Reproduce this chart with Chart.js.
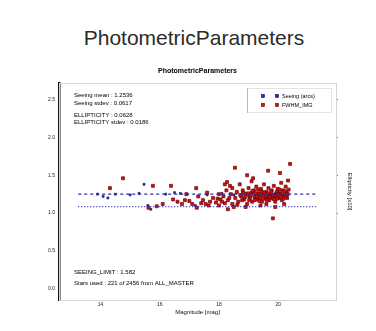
<!DOCTYPE html>
<html>
<head>
<meta charset="utf-8">
<script src="https://cdn.jsdelivr.net/npm/chart.js@4.4.1/dist/chart.umd.min.js"></script>
<style>
    body { margin: 0; background: #fff; width: 376px; height: 331px; overflow: hidden; }
    #pageTitle {
        position: absolute; top: 26px; left: 12px; width: 364px;
        text-align: center; font: 21px "Liberation Sans", Arial, sans-serif;
        line-height: 24px; color: #2b2b2b;
    }
    #wrap { position: absolute; left: 0; top: 0; width: 376px; height: 331px; }
</style>
</head>
<body>
<div id="pageTitle">PhotometricParameters</div>
<div id="wrap"><canvas id="myChart"></canvas></div>
<script>
// axis ticks
const xTicks = [14, 16, 18, 20];
const yTicks = [0.0, 0.5, 1.0, 1.5, 2.0, 2.5];
const ellTicks = [0.0, 0.1, 0.2, 0.3];

// seeing level (dashed) and limit (dotted)
const seeingMean = 1.25;
const seeingLimit = 1.085;
const lineRange = [13.25, 21.35];

// per-star seeing, magnitude vs arcsec
const seeingStars = [
    [13.9, 1.25], [14.09, 1.22], [14.25, 1.20], [14.5, 1.25], [15.0, 1.24], [15.3, 1.26],
    [15.47, 1.38], [15.6, 1.10], [15.7, 1.05], [16.2, 1.25], [16.5, 1.27], [16.7, 1.26],
    [16.9, 1.25], [17.2, 1.10], [17.6, 1.24], [18.1, 1.26], [18.5, 1.24], [18.8, 1.26],
    [19.0, 1.22], [19.2, 1.20], [19.3, 1.25], [19.5, 1.28], [19.6, 1.18], [19.7, 1.22],
    [19.9, 1.26], [20.0, 1.30], [20.1, 1.24], [20.3, 1.27]
];

// per-star FWHM
const fwhmStars = [
    [14.76, 1.46], [14.32, 1.33], [15.77, 1.36], [16.38, 1.36], [17.23, 1.33], [18.54, 1.60],
    [18.95, 1.50], [19.15, 1.46], [19.66, 1.56], [20.06, 1.53], [20.40, 1.65], [19.82, 0.93],
    [18.27, 1.41], [18.20, 1.38], [18.37, 1.36],
    [15.62, 1.07], [15.9, 1.09], [16.1, 1.12], [16.6, 1.15], [16.85, 1.17], [17.1, 1.12],
    [17.25, 1.07], [17.46, 1.17], [17.55, 1.12], [17.7, 1.15], [17.8, 1.20], [17.9, 1.14],
    [18.0, 1.10], [18.05, 1.18], [18.15, 1.22], [18.2, 1.13], [18.3, 1.17], [18.4, 1.25],
    [18.45, 1.12], [18.55, 1.20], [18.6, 1.28], [18.65, 1.15], [18.75, 1.22], [18.8, 1.30],
    [18.85, 1.18], [18.9, 1.25], [18.95, 1.12], [19.0, 1.33], [19.05, 1.20], [19.1, 1.27],
    [19.12, 1.15], [19.18, 1.30], [19.22, 1.22], [19.26, 1.35], [19.3, 1.18], [19.34, 1.26],
    [19.38, 1.20], [19.42, 1.32], [19.45, 1.15], [19.5, 1.24], [19.52, 1.38], [19.56, 1.19],
    [19.6, 1.28], [19.63, 1.22], [19.67, 1.33], [19.7, 1.17], [19.74, 1.25], [19.78, 1.30],
    [19.8, 1.20], [19.85, 1.36], [19.88, 1.23], [19.9, 1.15], [19.95, 1.28], [19.98, 1.32],
    [20.02, 1.20], [20.05, 1.26], [20.1, 1.40], [20.12, 1.17], [20.15, 1.30], [20.2, 1.23],
    [20.25, 1.35], [20.28, 1.27], [20.33, 1.43], [20.3, 1.20], [19.4, 1.10], [19.6, 1.12],
    [19.9, 1.08], [20.2, 1.12], [18.7, 1.38], [19.1, 1.42], [17.6, 1.27], [17.3, 1.22],
    [16.9, 1.25], [18.9, 1.08], [18.3, 1.05],
    [18.72, 1.24], [18.78, 1.17], [18.83, 1.27], [18.88, 1.21], [18.98, 1.26], [19.02, 1.17],
    [19.08, 1.23], [19.14, 1.29], [19.2, 1.17], [19.24, 1.26], [19.28, 1.22], [19.32, 1.31],
    [19.36, 1.16], [19.4, 1.24], [19.44, 1.28], [19.48, 1.19], [19.54, 1.27], [19.58, 1.23],
    [19.62, 1.17], [19.66, 1.26], [19.72, 1.21], [19.76, 1.28], [19.82, 1.24], [19.86, 1.18],
    [19.92, 1.22], [19.96, 1.19], [20.0, 1.25], [20.04, 1.31], [20.08, 1.21], [20.14, 1.25],
    [20.18, 1.19], [20.22, 1.29], [20.26, 1.22], [20.32, 1.25], [20.35, 1.31], [18.1, 1.15],
    [17.95, 1.19], [17.65, 1.10], [17.4, 1.13], [17.0, 1.16], [16.75, 1.12], [16.45, 1.18],
    [18.5, 1.08], [18.62, 1.11], [18.35, 1.20], [18.0, 1.25], [18.25, 1.30], [18.45, 1.33]
];

const legendLabels = ['Seeing (arcs)', 'FWHM_IMG'];
const statsTop = [
    'Seeing mean : 1.2536',
    'Seeing stdev : 0.0617',
    'ELLIPTICITY : 0.0628',
    'ELLIPTICITY stdev : 0.0186'
];
const statsBottom = [
    'SEEING_LIMIT : 1.582',
    'Stars used : 221 of 2456 from ALL_MASTER'
];

const toPoints = arr => arr.map(p => ({ x: p[0], y: p[1] }));

const blue = '#2a2aa8';
const red = '#d81212';

// frame, legend box and text blocks inside the axes
const overlay = {
    id: 'overlay',
    beforeDatasetsDraw(chart) {
        const a = chart.chartArea;
        const c = chart.ctx;
        c.save();
        c.strokeStyle = '#d4d4d4';
        c.lineWidth = 1;
        c.strokeRect(a.left + 0.5, a.top + 0.5, a.right - a.left, a.bottom - a.top);
        c.restore();
    },
    afterDraw(chart) {
        const a = chart.chartArea;
        const c = chart.ctx;
        c.save();
        c.fillStyle = '#000';
        c.textBaseline = 'middle';

        // axes title
        c.font = 'bold 7px "Liberation Sans", Arial, sans-serif';
        c.textAlign = 'center';
        c.fillText('PhotometricParameters', (a.left + a.right) / 2, a.top - 12);

        // stats
        c.textAlign = 'left';
        c.font = '6px "Liberation Sans", Arial, sans-serif';
        const ys = [12, 20, 32, 39];
        statsTop.forEach((t, i) => c.fillText(t, a.left + 15, a.top + ys[i]));
        c.fillText(statsBottom[0], a.left + 15, a.bottom - 28);
        c.fillText(statsBottom[1], a.left + 15, a.bottom - 17);

        // legend
        const lx = a.right - 89, ly = a.top + 5;
        c.strokeStyle = '#e4e4e4';
        c.strokeRect(lx + 0.5, ly + 0.5, 84, 24);
        c.strokeStyle = '#b8b8b8';
        c.beginPath();
        c.moveTo(lx + 0.5, ly);
        c.lineTo(lx + 0.5, ly + 25);
        c.stroke();
        const cols = [blue, red];
        const edges = ['#10106e', '#6a0000'];
        c.font = '5.5px "Liberation Sans", Arial, sans-serif';
        legendLabels.forEach((t, i) => {
            const y = ly + 8 + i * 9;
            c.fillStyle = cols[i];
            c.strokeStyle = edges[i];
            c.lineWidth = 0.6;
            [16, 30].forEach(dx => {
                c.fillRect(lx + dx - 1.5, y - 1.5, 3, 3);
                c.strokeRect(lx + dx - 1.5, y - 1.5, 3, 3);
            });
            c.fillStyle = '#000';
            c.fillText(t, lx + 35, y);
        });
        c.restore();
    }
};

const ctx = document.getElementById('myChart');

let cfg = {
    type: 'scatter',
    data: {
        datasets: [
            {
                type: 'line',
                data: [{ x: lineRange[0], y: seeingMean }, { x: lineRange[1], y: seeingMean }],
                borderColor: blue,
                borderWidth: 1.2,
                borderDash: [3, 3],
                pointRadius: 0
            },
            {
                type: 'line',
                data: [{ x: lineRange[0], y: seeingLimit }, { x: lineRange[1], y: seeingLimit }],
                borderColor: blue,
                borderWidth: 1.2,
                borderDash: [1, 2],
                pointRadius: 0
            },
            {
                label: legendLabels[1],
                data: toPoints(fwhmStars),
                pointStyle: 'rect',
                pointRadius: 2.1,
                backgroundColor: red,
                borderColor: '#6a0000',
                borderWidth: 0.7
            },
            {
                label: legendLabels[0],
                data: toPoints(seeingStars),
                pointStyle: 'rect',
                pointRadius: 1.4,
                backgroundColor: blue,
                borderColor: '#10106e',
                borderWidth: 0.6
            }
        ]
    },
    options: {
        responsive: false,
        animation: false,
        layout: { padding: { top: 83, left: 0, right: 0, bottom: 0 } },
        plugins: {
            legend: { display: false },
            tooltip: { enabled: false }
        },
        scales: {
            x: {
                type: 'linear',
                min: 12.6,
                max: 21.95,
                afterFit: s => { s.height = 31; },
                afterBuildTicks: s => { s.ticks = xTicks.map(v => ({ value: v })); },
                grid: { drawOnChartArea: false, drawTicks: true, tickLength: 1, color: '#999' },
                border: { color: '#cccccc', width: 1 },
                ticks: {
                    color: '#222',
                    padding: 1,
                    font: { size: 5, family: '"Liberation Sans", Arial, sans-serif' },
                    callback: v => v.toFixed(0)
                },
                title: {
                    display: true,
                    text: 'Magnitude [mag]',
                    color: '#111',
                    font: { size: 6, family: '"Liberation Sans", Arial, sans-serif' },
                    padding: { top: 0, bottom: 15.4 }
                }
            },
            y: {
                type: 'linear',
                position: 'left',
                min: -0.15,
                max: 2.72,
                afterFit: s => { s.width = 59; },
                afterBuildTicks: s => { s.ticks = yTicks.map(v => ({ value: v })); },
                grid: { drawOnChartArea: false, drawTicks: true, tickLength: 1, color: '#999' },
                border: { color: '#111', width: 2.5 },
                ticks: {
                    color: '#222',
                    padding: 3,
                    font: { size: 5, family: '"Liberation Sans", Arial, sans-serif' },
                    callback: v => v.toFixed(1)
                }
            },
            y2: {
                type: 'linear',
                position: 'right',
                min: -0.23,
                max: 0.345,
                afterFit: s => { s.width = 40; },
                afterBuildTicks: s => { s.ticks = ellTicks.map(v => ({ value: v })); },
                grid: { drawOnChartArea: false, drawTicks: true, tickLength: 2, color: '#777' },
                border: { color: '#cccccc', width: 1 },
                ticks: { display: false },
                title: {
                    display: true,
                    text: 'Ellipticity [x10]',
                    color: '#111',
                    font: { size: 6, family: '"Liberation Sans", Arial, sans-serif' },
                    padding: { top: 22.4, bottom: 0 }
                }
            }
        }
    },
    plugins: [overlay]
};

ctx.width = 376;
ctx.height = 331;
let myChart = new Chart(ctx, cfg);
</script>
</body>
</html>
